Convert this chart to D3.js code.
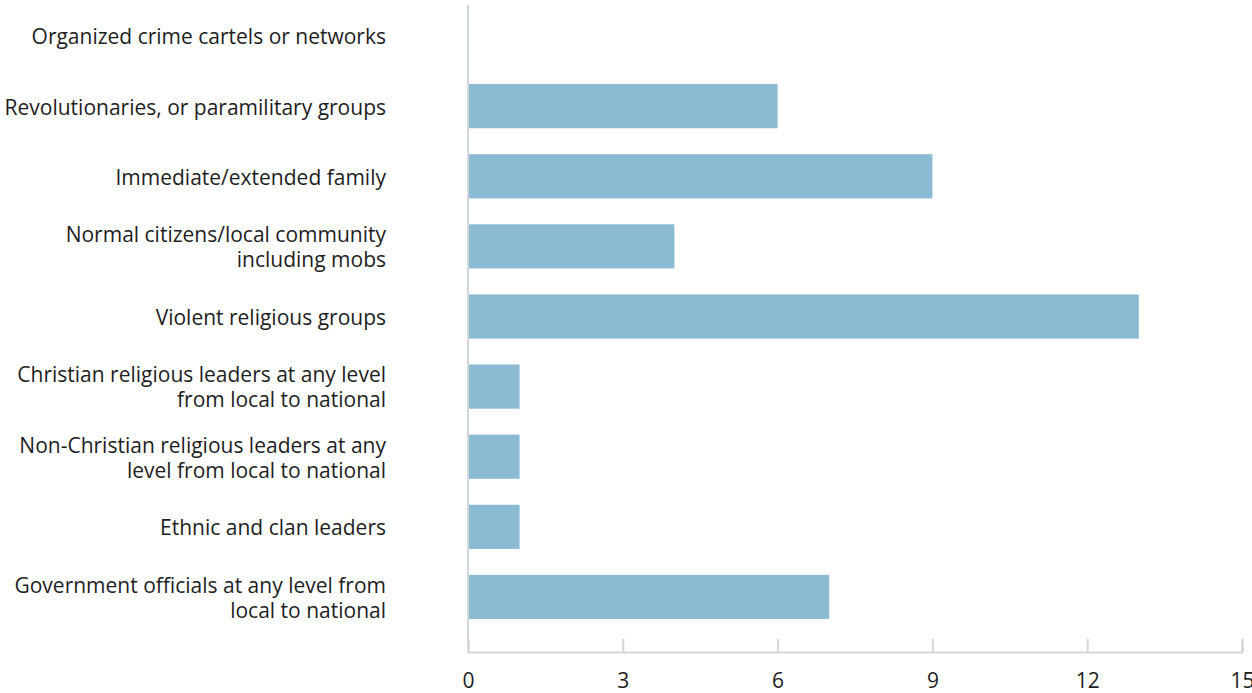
<!DOCTYPE html>
<html>
<head>
<meta charset="utf-8">
<script src="https://cdn.jsdelivr.net/npm/d3@7"></script>
<style>
  body { margin: 0; background: #fff; }
  text { font-family: "Open Sans", Lato, sans-serif; fill: #1e1e1e; }
</style>
</head>
<body>
<script>
// categories, each split into its display lines
var categories = [
  ["Organized crime cartels or networks"],
  ["Revolutionaries, or paramilitary groups"],
  ["Immediate/extended family"],
  ["Normal citizens/local community", "including mobs"],
  ["Violent religious groups"],
  ["Christian religious leaders at any level", "from local to national"],
  ["Non-Christian religious leaders at any", "level from local to national"],
  ["Ethnic and clan leaders"],
  ["Government officials at any level from", "local to national"]
];
var values = [0, 6, 9, 4, 13, 1, 1, 1, 7];
var xTicks = [0, 3, 6, 9, 12, 15];

var width = 1252, height = 693;
var left = 468, right = 1242, axisY = 652;

var svg = d3.select("body")
  .append("svg")
    .attr("width", width)
    .attr("height", height);

var keys = categories.map(function(d) { return d.join(" "); });

var x = d3.scaleLinear()
    .domain([0, 15])
    .range([left, right]);

var y = d3.scaleBand()
    .domain(keys)
    .range([1, 632])
    .paddingInner(0.37)
    .paddingOuter(0.185);

// bars
svg.selectAll("rect.bar")
  .data(values)
  .enter()
  .append("rect")
    .attr("class", "bar")
    .attr("x", x(0))
    .attr("y", function(d, i) { return y(keys[i]); })
    .attr("width", function(d) { return x(d) - x(0); })
    .attr("height", y.bandwidth())
    .attr("fill", "#8abbd2");

// vertical axis line
svg.append("line")
  .attr("x1", x(0)).attr("x2", x(0))
  .attr("y1", 5).attr("y2", axisY)
  .attr("stroke", "#d3d7db")
  .attr("stroke-width", 2);

// bottom axis
var xAxis = svg.append("g")
  .attr("transform", "translate(0," + axisY + ")")
  .call(d3.axisBottom(x).tickValues(xTicks).tickSize(-13).tickPadding(22));

xAxis.select(".domain").attr("stroke", "#d3d7db").attr("stroke-width", 2);
xAxis.selectAll(".tick line").attr("stroke", "#d3d7db").attr("stroke-width", 2);
xAxis.selectAll(".tick text")
  .style("font-family", "'Open Sans', Lato, sans-serif")
  .style("font-size", "21px")
  .attr("fill", "#1e1e1e")
  .attr("dy", "0.68em");

// category labels
var labels = svg.selectAll("text.cat")
  .data(categories)
  .enter()
  .append("text")
    .attr("class", "cat")
    .attr("text-anchor", "end")
    .style("font-size", "21px")
    .attr("transform", function(d, i) {
      var c = y(keys[i]) + y.bandwidth() / 2 + 1;
      return "translate(386," + (c - (d.length - 1) * 12.5) + ")";
    });

labels.selectAll("tspan")
  .data(function(d) { return d; })
  .enter()
  .append("tspan")
    .attr("x", 0)
    .attr("y", function(d, i) { return i * 25; })
    .attr("dy", "0.35em")
    .text(function(d) { return d; });
</script>
</body>
</html>
